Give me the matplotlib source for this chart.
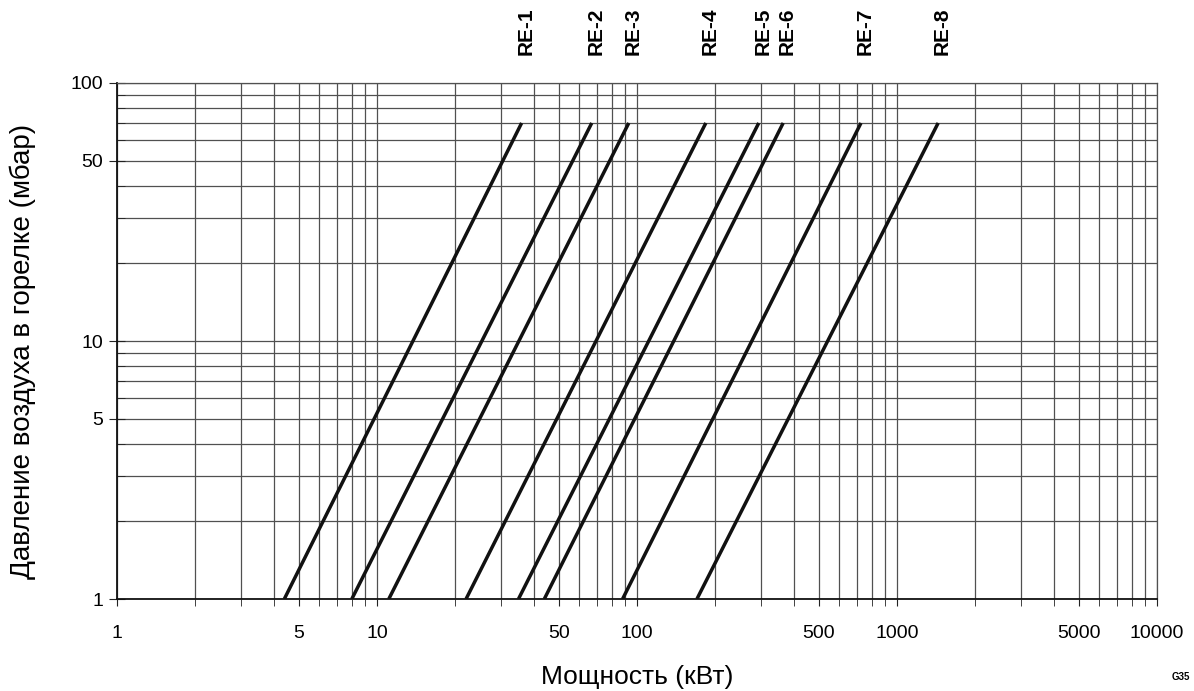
import matplotlib.pyplot as plt
from matplotlib.ticker import FixedLocator, LogLocator, NullFormatter

plt.rcParams['font.family'] = ['Liberation Sans', 'DejaVu Sans']

# модели горелок и мощность (кВт) при 1 мбар и при 70 мбар
models = ["RE-1", "RE-2", "RE-3", "RE-4", "RE-5", "RE-6", "RE-7", "RE-8"]
power_low = [4.4, 8.0, 11.1, 22, 35, 44, 88, 170]
power_high = [36, 67, 93, 184, 294, 365, 727, 1440]
pressure_low = 1
pressure_high = 70

x_ticks = [1, 5, 10, 50, 100, 500, 1000, 5000, 10000]
y_ticks = [1, 5, 10, 50, 100]

fig = plt.figure(figsize=(11.94, 6.91), dpi=100)
ax = fig.add_axes([0.098, 0.1331, 0.871, 0.7468])

for lo, hi in zip(power_low, power_high):
    ax.plot([lo, hi], [pressure_low, pressure_high], color="#111111", lw=2.5,
            solid_capstyle="butt", zorder=3)

ax.set_xscale("log")
ax.set_yscale("log")
ax.set_xlim(1, 10000)
ax.set_ylim(1, 100)

ax.xaxis.set_major_locator(FixedLocator(x_ticks))
ax.yaxis.set_major_locator(FixedLocator(y_ticks))
ax.xaxis.set_minor_locator(LogLocator(base=10, subs=range(1, 10), numticks=20))
ax.yaxis.set_minor_locator(LogLocator(base=10, subs=range(1, 10), numticks=20))
ax.xaxis.set_minor_formatter(NullFormatter())
ax.yaxis.set_minor_formatter(NullFormatter())
ax.set_xticklabels([str(v) for v in x_ticks])
ax.set_yticklabels([str(v) for v in y_ticks])

ax.grid(which="both", color="#505050", lw=0.9)
ax.tick_params(which="both", labelsize=14, color="#222222")
ax.tick_params(axis="x", which="both", direction="out", length=5, pad=14)
ax.tick_params(axis="y", which="major", direction="inout", length=12, pad=4)
ax.tick_params(axis="y", which="minor", direction="in", length=6)

for side in ["top", "right"]:
    ax.spines[side].set_color("#505050")
    ax.spines[side].set_linewidth(0.9)
for side in ["left", "bottom"]:
    ax.spines[side].set_color("#111111")
    ax.spines[side].set_linewidth(1.3)

for name, hi in zip(models, power_high):
    ax.text(hi * 1.04, 1.054, name, transform=ax.get_xaxis_transform(),
            rotation=90, ha="center", va="bottom", fontsize=15, fontweight="bold")

ax.set_xlabel("Мощность (кВт)", fontsize=19, labelpad=16)
ax.set_ylabel("Давление воздуха в горелке (мбар)", fontsize=20)
ax.yaxis.set_label_coords(-0.078, 0.48)

fig.text(0.981, 0.013, "G35", fontsize=7, fontweight="bold", ha="left", va="bottom")

fig.savefig("out.png", dpi=100)
